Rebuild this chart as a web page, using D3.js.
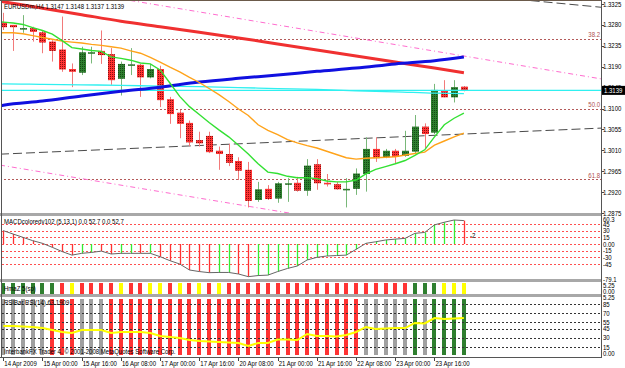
<!DOCTYPE html>
<html>
<head>
<meta charset="utf-8">
<script src="https://cdn.jsdelivr.net/npm/d3@7"></script>
<style>
  body { margin: 0; background: #fff; }
  svg { display: block; }
  text { font-family: "Liberation Sans", Arial, sans-serif; font-size: 7px; fill: #000; }
</style>
</head>
<body>
<div id="chart"></div>
<script>
const width = 625, height = 368;
const plotRight = 601;

// EURUSDm H4 candles, 14 Apr 08:00 .. 24 Apr 04:00
const open  = [1.3285,1.3280,1.3272,1.3273,1.3264,1.3244,1.3227,1.3185,1.3177,1.3220,1.3224,1.3217,1.3164,1.3194,1.3194,1.3167,1.3185,1.3120,1.3091,1.3069,1.3032,1.3041,1.3009,1.3002,1.2987,1.2968,1.2903,1.2927,1.2906,1.2938,1.2940,1.2923,1.2980,1.2940,1.2937,1.2926,1.2927,1.2959,1.3013,1.2995,1.3009,1.2998,1.3007,1.3061,1.3048,1.3138,1.3124,1.3147];
const high  = [1.3306,1.3280,1.3301,1.3276,1.3269,1.3247,1.3298,1.3197,1.3233,1.3233,1.3268,1.3230,1.3201,1.3230,1.3196,1.3196,1.3192,1.3125,1.3097,1.3074,1.3050,1.3050,1.3018,1.3024,1.2995,1.2985,1.2942,1.2935,1.2942,1.2950,1.2953,1.2991,1.2991,1.2959,1.2942,1.2950,1.2971,1.3038,1.3038,1.3013,1.3013,1.3052,1.3086,1.3068,1.3153,1.3161,1.3161,1.3148];
const low   = [1.3269,1.3224,1.3263,1.3244,1.3219,1.3201,1.3179,1.3146,1.3172,1.3197,1.3196,1.3151,1.3128,1.3172,1.3125,1.3165,1.3103,1.3067,1.3036,1.3019,1.3018,1.3004,1.2968,1.2976,1.2946,1.2887,1.2899,1.2903,1.2897,1.2899,1.2921,1.2912,1.2925,1.2932,1.2925,1.2887,1.2914,1.2921,1.2985,1.2993,1.2982,1.2996,1.3002,1.3014,1.3045,1.3124,1.3113,1.3137];
const close = [1.3275,1.3275,1.3273,1.3265,1.3242,1.3224,1.3184,1.3179,1.3221,1.3221,1.3215,1.3161,1.3196,1.3195,1.3167,1.3185,1.3118,1.3088,1.3067,1.3027,1.3025,1.3006,1.3002,1.2983,1.2966,1.2901,1.2926,1.2905,1.2939,1.2939,1.2923,1.2977,1.2939,1.2937,1.2926,1.2927,1.2960,1.3013,1.2993,1.3009,1.2996,1.3009,1.3061,1.3045,1.3140,1.3124,1.3146,1.3139];
const lastPrice = 1.3139;

// moving averages, one value per bar from index -1
const greenMA  = [1.3288,1.3286,1.3284,1.3281,1.3274,1.3268,1.3260,1.3246,1.3231,1.3228,1.3225,1.3223,1.3211,1.3208,1.3204,1.3198,1.3196,1.3183,1.3155,1.3126,1.3104,1.3087,1.3070,1.3054,1.3039,1.3021,1.3002,1.2981,1.2963,1.2960,1.2954,1.2951,1.2951,1.2949,1.2944,1.2942,1.2942,1.2946,1.2959,1.2969,1.2975,1.2981,1.2988,1.2999,1.3011,1.3039,1.3065,1.3079,1.3090];
const orangeMA = [1.3263,1.3263,1.3263,1.3261,1.3257,1.3253,1.3249,1.3245,1.3243,1.3241,1.3238,1.3236,1.3233,1.3230,1.3224,1.3219,1.3210,1.3200,1.3189,1.3179,1.3167,1.3156,1.3143,1.3130,1.3115,1.3099,1.3085,1.3065,1.3053,1.3044,1.3033,1.3026,1.3020,1.3015,1.3008,1.3001,1.2994,1.2991,1.2993,1.2994,1.2995,1.2996,1.3000,1.3003,1.3006,1.3021,1.3030,1.3039,1.3047];
// slow averages, read every 4 bars
const slowIdx  = [-1,0,4,8,12,16,20,24,28,32,36,40,44,47];
const redMA    = [1.3334,1.3330,1.3316,1.3302,1.3288,1.3276,1.3264,1.3252,1.3239,1.3226,1.3213,1.3200,1.3187,1.3177];
const blueMA   = [1.3103,1.3107,1.3116,1.3127,1.3137,1.3146,1.3157,1.3165,1.3172,1.3180,1.3187,1.3196,1.3203,1.3211];
const cyanMA   = [1.3153,1.3153,1.3152,1.3151,1.3150,1.3148,1.3147,1.3145,1.3143,1.3141,1.3138,1.3136,1.3133,1.3132];

// fibonacci levels and trend lines (bar index, price)
const fibLabels = ["38.2", "50.0", "61.8"];
const fibPrices = [1.3250, 1.3099, 1.2948];
const blackTrend = [[0, 1.3002], [47, 1.3045]];
const blackTrendTop = [[55, 1.3330], [60, 1.3320]];
const pinkUpper = [[14, 1.3329], [47, 1.3213]];
const pinkLower = [[0, 1.2977], [28, 1.2879]];

const priceTicks = [1.3325,1.3280,1.3235,1.3190,1.3145,1.3100,1.3055,1.3010,1.2965,1.2920,1.2875];

// MACD histogram
const macd = [30,22.5,15,7.5,1.5,-7.5,-17,-25,-21,-19,-16,-22.5,-21,-21,-21,-21,-28.5,-37.5,-45,-58.5,-62,-64.5,-64,-64,-67.5,-73.5,-71,-70,-62,-55,-49.5,-36,-30,-27,-26,-25,-12,1.5,5,9,11,12.7,24,26,43,49,54,52.7];
const macdColor = ["r","r","r","r","r","r","r","r","g","g","r","r","g","g","r","g","r","r","r","r","r","r","g","g","r","r","g","g","g","g","g","g","g","g","g","g","g","g","g","g","g","g","g","g","g","g","g","r"];
const macdLevels = [45,30,15,0,-15,-30,-45];
const macdTickLabels = ["60.3","45","30","15","0.00","-15","-30","-45","-79.1"];
const macdTickValues = [60.3,45,30,15,0,-15,-30,-45,-79.1];

// colour strip indicator
const stripColor = ["g","g","g","g","g","g","r","y","r","r","r","r","y","r","r","y","y","r","y","r","y","r","y","r",
                    "r","r","r","r","r","r","r","r","r","r","r","r","r","r","r","r","r","r","g","g","g","y","y","y"];

// RSI bars (x = grey, r = red, g = green)
const rsi = [49.2,49.2,48.4,47.6,45.9,42.7,39.4,37.8,42.7,42.7,42.7,37.8,39.4,39.4,39.4,37.8,32.9,31.3,29.6,26.4,24.8,23.9,23.1,22.3,21.5,16.6,21.5,21.5,27.2,27.2,26.4,36.2,32.9,32.9,32.1,34.5,39.4,47.6,44.3,45.1,45.9,45.9,54.1,53.3,62.2,60.6,61.4,62.2];
const rsiColor = ["x","x","x","x","x","r","r","r","x","x","x","r","r","r","r","r","r","r","r","r","r","r","r","r",
                  "r","r","r","r","r","r","r","r","r","r","r","r","r","x","x","x","x","x","g","x","g","g","g","g"];
const rsiLevels = [85,70,55,45,30,15];

const timeLabels = ["14 Apr 2009","15 Apr 00:00","15 Apr 16:00","16 Apr 08:00","17 Apr 00:00","17 Apr 16:00","20 Apr 08:00","21 Apr 00:00","21 Apr 16:00","22 Apr 08:00","23 Apr 00:00","23 Apr 16:00"];
const timeIdx = [0,4,8,12,16,20,24,28,32,36,40,44];

const svg = d3.select("#chart").append("svg")
  .attr("width", width).attr("height", height);

const defs = svg.append("defs");
function dots(id, bg, fg) {
  const p = defs.append("pattern").attr("id", id)
    .attr("width", 2).attr("height", 2).attr("patternUnits", "userSpaceOnUse");
  p.append("rect").attr("width", 2).attr("height", 2).attr("fill", bg);
  p.append("rect").attr("width", 1).attr("height", 1).attr("fill", fg);
}
dots("redDots", "#ff3333", "#8a1010");
dots("greenDots", "#2f7f2f", "#164a16");
defs.append("clipPath").attr("id", "mainClip")
  .append("rect").attr("x", 2).attr("y", 1).attr("width", plotRight - 2).attr("height", 212);

const x = d3.scaleLinear().domain([0, 47]).range([3.3, 463.9]);
const y = d3.scaleLinear().domain([1.2875, 1.3325]).range([213, 4]);
const labelX = plotRight + 2;

// ---------- main panel ----------
const main = svg.append("g").attr("clip-path", "url(#mainClip)");

// fib levels
main.selectAll(".fib").data(fibPrices).join("line")
  .attr("x1", 0).attr("x2", plotRight)
  .attr("y1", d => Math.round(y(d)) + 0.5).attr("y2", d => Math.round(y(d)) + 0.5)
  .attr("stroke", "#b45a5a").attr("stroke-dasharray", "2,2");
svg.selectAll(".fibLabel").data(fibPrices).join("text")
  .attr("x", plotRight - 1).attr("y", d => y(d) - 1.5)
  .attr("text-anchor", "end").style("fill", "#b05050")
  .text((d, i) => fibLabels[i]);

// trend lines extended across the panel
function trend(pts, color, dash, w) {
  const [a, b] = pts;
  const x1 = x(a[0]), y1 = y(a[1]), x2 = x(b[0]), y2 = y(b[1]);
  const k = (y2 - y1) / (x2 - x1);
  main.append("line")
    .attr("x1", 0).attr("y1", y1 - k * x1)
    .attr("x2", plotRight).attr("y2", y1 + k * (plotRight - x1))
    .attr("stroke", color).attr("stroke-width", w).attr("stroke-dasharray", dash);
}
trend(blackTrend, "#4a4a4a", "9,4", 1);
trend(blackTrendTop, "#4a4a4a", "9,4", 1);
trend(pinkUpper, "#ff6ccf", "5,3,1,3", 1);
trend(pinkLower, "#ff6ccf", "5,3,1,3", 1);

// candles
const up = d => close[d] >= open[d];
const bars = d3.range(open.length);
main.append("g").selectAll("line").data(bars).join("line")
  .attr("x1", d => Math.round(x(d)) + 0.5).attr("x2", d => Math.round(x(d)) + 0.5)
  .attr("y1", d => y(high[d])).attr("y2", d => y(low[d]))
  .attr("stroke", d => up(d) ? "#79b879" : "#f27a7a");
main.append("g").selectAll("rect").data(bars).join("rect")
  .attr("x", d => Math.round(x(d)) - 3).attr("width", 7)
  .attr("y", d => y(Math.max(open[d], close[d])))
  .attr("height", d => Math.max(1.5, Math.abs(y(open[d]) - y(close[d]))))
  .attr("fill", d => up(d) ? "url(#greenDots)" : "url(#redDots)");

// moving averages
const maLine = d3.line().x(d => x(d[0])).y(d => y(d[1]));
const perBar = arr => arr.map((v, i) => [i - 1, v]);
const sparse = arr => arr.map((v, i) => [slowIdx[i], v]);
main.append("path").attr("d", maLine.curve(d3.curveMonotoneX)(sparse(cyanMA)))
  .attr("fill", "none").attr("stroke", "#2ff0f0").attr("stroke-width", 1.3);
main.append("line").attr("x1", 0).attr("x2", plotRight)
  .attr("y1", y(lastPrice)).attr("y2", y(lastPrice))
  .attr("stroke", "#2ff0f0").attr("stroke-width", 1.3);
main.append("path").attr("d", maLine.curve(d3.curveMonotoneX)(sparse(redMA)))
  .attr("fill", "none").attr("stroke", "#f03030").attr("stroke-width", 3);
main.append("path").attr("d", maLine.curve(d3.curveMonotoneX)(sparse(blueMA)))
  .attr("fill", "none").attr("stroke", "#1010e0").attr("stroke-width", 3);
main.append("path").attr("d", maLine.curve(d3.curveLinear)(perBar(orangeMA)))
  .attr("fill", "none").attr("stroke", "#ffa31a").attr("stroke-width", 1.4);
main.append("path").attr("d", maLine.curve(d3.curveLinear)(perBar(greenMA)))
  .attr("fill", "none").attr("stroke", "#33e033").attr("stroke-width", 1.4);

svg.append("text").attr("x", 4).attr("y", 9)
  .text("EURUSDm,H4  1.3147 1.3148 1.3137 1.3139");

// price axis
const axisG = svg.append("g");
axisG.selectAll("line").data(priceTicks).join("line")
  .attr("x1", plotRight).attr("x2", plotRight + 3)
  .attr("y1", d => Math.round(y(d)) + 0.5).attr("y2", d => Math.round(y(d)) + 0.5)
  .attr("stroke", "#444");
axisG.selectAll("text").data(priceTicks).join("text")
  .attr("x", labelX).attr("y", d => y(d) + 2.5)
  .text(d => d3.format(".4f")(d));
svg.append("rect").attr("x", plotRight + 1).attr("y", y(lastPrice) - 4.5)
  .attr("width", 23).attr("height", 9).attr("fill", "#000");
svg.append("text").attr("x", labelX + 1).attr("y", y(lastPrice) + 2.5)
  .style("fill", "#fff").text(d3.format(".4f")(lastPrice));

// ---------- MACD panel ----------
const ym = d3.scaleLinear().domain([-45, 45]).range([264, 224]);
svg.append("g").selectAll("line").data(macdLevels).join("line")
  .attr("x1", 2).attr("x2", plotRight)
  .attr("y1", d => Math.round(ym(d)) + 0.5).attr("y2", d => Math.round(ym(d)) + 0.5)
  .attr("stroke", "#ff5050").attr("stroke-dasharray", "2,2");
svg.append("g").selectAll("line").data(bars).join("line")
  .attr("x1", d => Math.round(x(d)) + 0.5).attr("x2", d => Math.round(x(d)) + 0.5)
  .attr("y1", ym(0)).attr("y2", d => ym(macd[d]))
  .attr("stroke", d => macdColor[d] === "g" ? "#33ee33" : "#ff3333").attr("stroke-width", 1.3);
svg.append("path")
  .attr("d", d3.line().x(d => x(d)).y(d => ym(macd[d]))(bars))
  .attr("fill", "none").attr("stroke", "#666").attr("stroke-width", 1);
svg.append("text").attr("x", 4).attr("y", 224)
  .text("MACDcoloredv102 (5,13,1) 0.0 52.7 0.0 52.7");
svg.append("text").attr("x", 470).attr("y", 238).text("-2");
svg.append("g").selectAll("text").data(macdTickValues).join("text")
  .attr("x", labelX).attr("y", d => Math.max(ym(d) + 2.5, 221.5))
  .text((d, i) => macdTickLabels[i]);

// ---------- colour strip ----------
const stripFill = { g: "#2f7f2f", r: "#ff3333", y: "#ffff00" };
svg.append("g").selectAll("rect").data(bars).join("rect")
  .attr("x", d => Math.round(x(d)) - 2).attr("width", 4)
  .attr("y", 283).attr("height", 11)
  .attr("fill", d => stripFill[stripColor[d]]);
svg.append("text").attr("x", 4).attr("y", 291).text("HmaZ 5(sp)");
svg.append("text").attr("x", labelX).attr("y", 287.5).text("5.25");
svg.append("text").attr("x", labelX).attr("y", 293.5).text("0.00");

// ---------- RSI panel ----------
const yr = d3.scaleLinear().domain([15, 85]).range([347, 304]);
const rsiFill = { x: "#a0a0a0", r: "#ff3333", g: "#2f7f2f" };
svg.append("g").selectAll("rect").data(bars).join("rect")
  .attr("x", d => Math.round(x(d)) - 2).attr("width", 4)
  .attr("y", 299).attr("height", 56)
  .attr("fill", d => rsiFill[rsiColor[d]]);
svg.append("g").selectAll("line").data(rsiLevels).join("line")
  .attr("x1", 2).attr("x2", plotRight)
  .attr("y1", d => Math.round(yr(d)) + 0.5).attr("y2", d => Math.round(yr(d)) + 0.5)
  .attr("stroke", "#333").attr("stroke-dasharray", "2,2");
svg.append("path")
  .attr("d", d3.line().x(d => x(d)).y(d => yr(rsi[d]))(bars))
  .attr("fill", "none").attr("stroke", "#ffff00").attr("stroke-width", 2);
svg.append("text").attr("x", 4).attr("y", 305).text("RSIBar RSI(14) 63.1909");
svg.append("text").attr("x", 4).attr("y", 354)
  .text("InterbankFX Trader 4, \u00a9 2001-2008 MetaQuotes Software Corp.");
svg.append("g").selectAll("text").data(rsiLevels).join("text")
  .attr("x", labelX).attr("y", d => yr(d) + 2.5).text(d => d);
svg.append("text").attr("x", labelX).attr("y", 300).text("5.25");
svg.append("text").attr("x", labelX).attr("y", 356).text("0.00");

// ---------- frames and separators ----------
[[213, 216], [279, 282], [294, 297]].forEach(([a, b]) => {
  svg.append("rect").attr("x", 0).attr("y", a).attr("width", plotRight + 1).attr("height", b - a)
    .attr("fill", "#a8a8a8");
});
svg.append("line").attr("x1", 0).attr("x2", plotRight).attr("y1", 0.5).attr("y2", 0.5).attr("stroke", "#6b5a4a");
svg.append("line").attr("x1", 0).attr("x2", plotRight).attr("y1", 357.5).attr("y2", 357.5).attr("stroke", "#555");
svg.append("line").attr("x1", 1.5).attr("x2", 1.5).attr("y1", 0).attr("y2", 358).attr("stroke", "#555");
svg.append("line").attr("x1", plotRight + 0.5).attr("x2", plotRight + 0.5).attr("y1", 0).attr("y2", 358).attr("stroke", "#555");

// time axis
const tG = svg.append("g");
tG.selectAll("line").data(timeIdx).join("line")
  .attr("x1", d => Math.round(x(d)) + 0.5).attr("x2", d => Math.round(x(d)) + 0.5)
  .attr("y1", 358).attr("y2", 361).attr("stroke", "#444");
tG.selectAll("text").data(timeIdx).join("text")
  .attr("x", d => x(d) + 1).attr("y", 366)
  .text((d, i) => timeLabels[i]);

// squeeze all labels to the narrow terminal font width
svg.selectAll("text").each(function () {
  const w = this.getComputedTextLength();
  d3.select(this).attr("textLength", w * 0.86).attr("lengthAdjust", "spacingAndGlyphs");
});
</script>
</body>
</html>
